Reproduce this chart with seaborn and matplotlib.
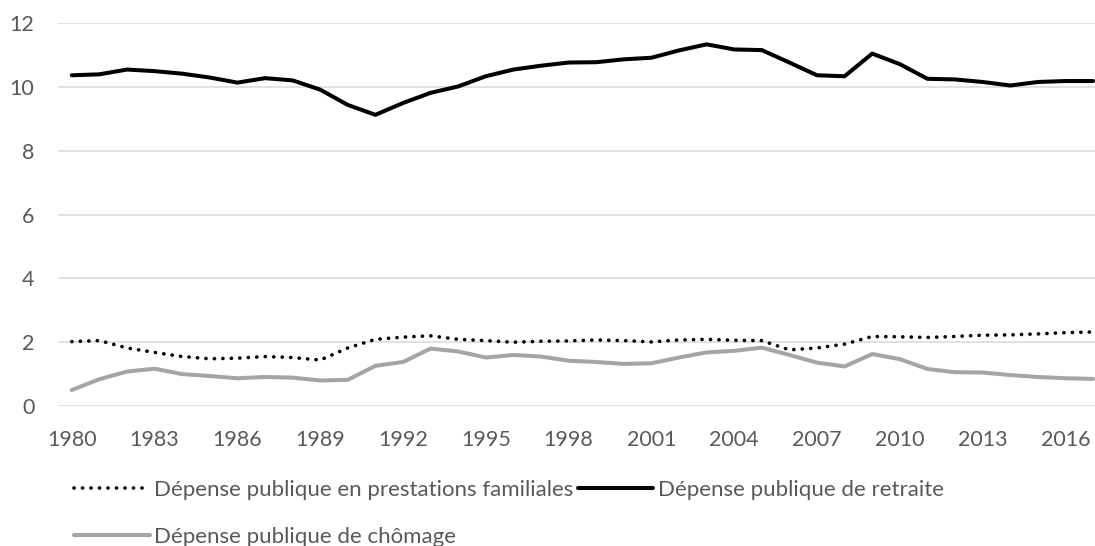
import matplotlib.pyplot as plt
import pandas as pd
import seaborn as sns

# Données (en % du PIB)
annees = list(range(1980, 2018))

familiales = [2.02, 2.05, 1.82, 1.68, 1.55, 1.48, 1.50, 1.55, 1.52, 1.44,
              1.82, 2.09, 2.16, 2.20, 2.09, 2.05, 2.00, 2.03, 2.04, 2.07,
              2.05, 2.01, 2.07, 2.09, 2.06, 2.05, 1.76, 1.82, 1.94, 2.18,
              2.17, 2.15, 2.18, 2.22, 2.23, 2.26, 2.30, 2.32]

retraite = [10.37, 10.40, 10.55, 10.50, 10.42, 10.30, 10.14, 10.28, 10.21, 9.92,
            9.44, 9.13, 9.50, 9.82, 10.02, 10.34, 10.55, 10.67, 10.77, 10.78,
            10.87, 10.92, 11.15, 11.34, 11.18, 11.16, 10.77, 10.37, 10.34, 11.05,
            10.72, 10.26, 10.24, 10.16, 10.05, 10.16, 10.19, 10.19]

chomage = [0.50, 0.84, 1.08, 1.17, 1.00, 0.94, 0.87, 0.91, 0.89, 0.80,
           0.82, 1.26, 1.38, 1.80, 1.71, 1.52, 1.60, 1.55, 1.42, 1.38,
           1.32, 1.34, 1.52, 1.68, 1.73, 1.83, 1.60, 1.36, 1.24, 1.63,
           1.47, 1.16, 1.06, 1.05, 0.97, 0.91, 0.87, 0.85]

noms = ["Dépense publique en prestations familiales",
        "Dépense publique de retraite",
        "Dépense publique de chômage"]

df = pd.DataFrame({"annee": annees, noms[0]: familiales,
                   noms[1]: retraite, noms[2]: chomage})

sns.set_theme(style="white")
plt.rcParams['font.family'] = ['Lato', 'DejaVu Sans']

gris_texte = "#595959"

fig = plt.figure(figsize=(10.95, 5.46), dpi=100)
ax = fig.add_axes([58 / 1095, 1 - 406 / 546, (1095 - 58) / 1095, (406 - 23.3) / 546])

sns.lineplot(data=df, x="annee", y=noms[0], ax=ax, color="black", lw=2.6,
             dashes=False, label=noms[0])
sns.lineplot(data=df, x="annee", y=noms[1], ax=ax, color="black", lw=2.9,
             label=noms[1])
sns.lineplot(data=df, x="annee", y=noms[2], ax=ax, color="#A5A5A5", lw=2.9,
             label=noms[2])

# pointillés ronds pour les prestations familiales
l_fam = ax.lines[0]
l_fam.set_dashes((0.05, 2.3))
l_fam.set_dash_capstyle("round")

ax.set_xlim(1979.5, 1979.5 + (1095 - 58) / 27.6)
ax.set_ylim(0, 12)
ax.set_yticks(range(0, 13, 2))
ax.set_xticks(range(1980, 2017, 3))
ax.set_xlabel("")
ax.set_ylabel("")
ax.grid(axis="y", color="#D9D9D9", lw=1.1)
ax.set_axisbelow(True)
for s in ax.spines.values():
    s.set_visible(False)
ax.tick_params(axis="both", length=0, labelsize=15.5, labelcolor=gris_texte)
ax.tick_params(axis="x", pad=17)
ax.tick_params(axis="y", pad=17)

# légende sur deux lignes comme dans Excel
h, l = ax.get_legend_handles_labels()
ax.get_legend().remove()
ordre = [0, 2, 1]
fig.legend([h[i] for i in ordre], [l[i] for i in ordre],
           loc="upper left", bbox_to_anchor=(74 / 1095, 1 - 480 / 546),
           ncol=2, frameon=False, fontsize=16, labelcolor=gris_texte,
           handlelength=3.4, handletextpad=0.2, columnspacing=0.2,
           labelspacing=1.2, borderpad=0, borderaxespad=0)

plt.savefig("out.png", dpi=100)
